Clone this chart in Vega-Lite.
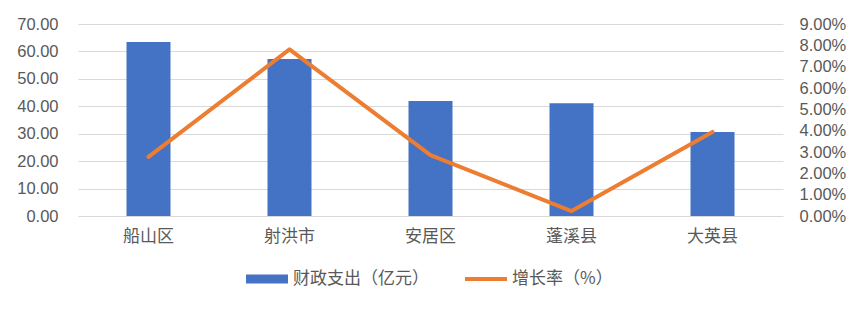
{
  "$schema": "https://vega.github.io/schema/vega-lite/v6.json",
  "width": 705,
  "height": 192,
  "autosize": "none",
  "padding": {"left": 78, "top": 24, "right": 73, "bottom": 94},
  "background": "white",
  "config": {
    "view": {"stroke": null},
    "axis": {"labelColor": "#595959", "domain": false, "ticks": false, "gridColor": "#D9D9D9", "gridWidth": 1.2}
  },
  "data": {
    "values": [
      {"region": "船山区", "spend": 63.4, "growth": 0.0277},
      {"region": "射洪市", "spend": 57.2, "growth": 0.0781},
      {"region": "安居区", "spend": 41.9, "growth": 0.0285},
      {"region": "蓬溪县", "spend": 41.1, "growth": 0.0023},
      {"region": "大英县", "spend": 30.6, "growth": 0.0394}
    ]
  },
  "encoding": {
    "x": {
      "field": "region",
      "type": "nominal",
      "sort": null,
      "title": null,
      "axis": {"labelAngle": 0, "labelFont": "Noto Sans CJK SC", "labelFontSize": 17, "labelPadding": 12, "grid": false}
    }
  },
  "layer": [
    {
      "mark": {"type": "bar", "width": 44},
      "encoding": {
        "y": {
          "field": "spend",
          "type": "quantitative",
          "title": null,
          "scale": {"domain": [0, 70]},
          "axis": {"values": [0, 10, 20, 30, 40, 50, 60, 70], "format": ".2f", "labelFont": "Liberation Sans", "labelFontSize": 16.5, "labelPadding": 20, "grid": true}
        },
        "color": {
          "datum": "财政支出（亿元）",
          "type": "nominal",
          "scale": {"domain": ["财政支出（亿元）", "增长率（%）"], "range": ["#4472C4", "#ED7D31"]},
          "legend": {
            "title": null,
            "orient": "none",
            "direction": "horizontal",
            "legendX": 168,
            "legendY": 234,
            "labelFont": "Noto Sans CJK SC",
            "labelFontSize": 17,
            "labelColor": "#595959",
            "labelOffset": 5,
            "columnPadding": 36,
            "symbolSize": 1764,
            "symbolStrokeWidth": 0,
            "encode": {
              "symbols": {
                "update": {
                  "shape": {"signal": "datum.value === '财政支出（亿元）' ? 'M-1,-0.21L1,-0.21L1,0.21L-1,0.21Z' : 'M-1,-0.09L1,-0.09L1,0.09L-1,0.09Z'"},
                  "fill": {"signal": "datum.value === '财政支出（亿元）' ? '#4472C4' : '#ED7D31'"},
                  "strokeWidth": {"value": 0},
                  "opacity": {"value": 1}
                }
              }
            }
          }
        }
      }
    },
    {
      "mark": {"type": "line", "strokeWidth": 4, "strokeCap": "round", "strokeJoin": "round"},
      "encoding": {
        "y": {
          "field": "growth",
          "type": "quantitative",
          "title": null,
          "scale": {"domain": [0, 0.09]},
          "axis": {"orient": "right", "values": [0, 0.01, 0.02, 0.03, 0.04, 0.05, 0.06, 0.07, 0.08, 0.09], "format": ".2%", "labelFont": "Liberation Sans", "labelFontSize": 16.5, "labelPadding": 16, "grid": false}
        },
        "color": {"datum": "增长率（%）", "type": "nominal"}
      }
    }
  ],
  "resolve": {"scale": {"y": "independent"}}
}
